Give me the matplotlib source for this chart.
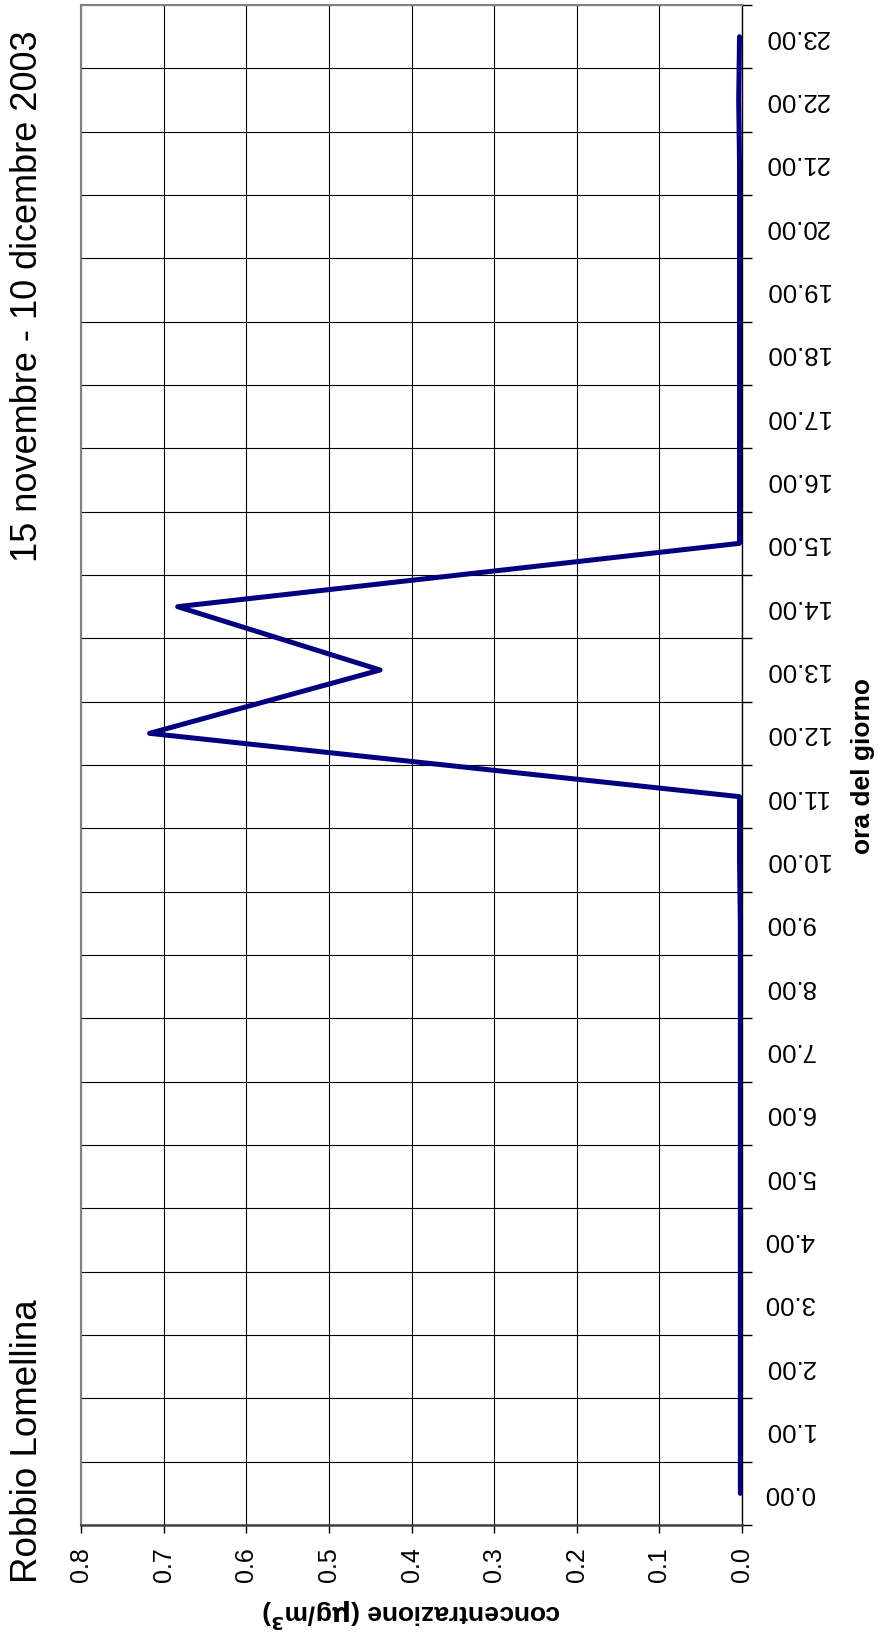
import matplotlib
matplotlib.use("Agg")
import matplotlib.pyplot as plt
from matplotlib.ticker import FixedLocator, NullFormatter

plt.rcParams['font.family'] = ['Liberation Sans', 'DejaVu Sans']

hours = list(range(24))
hour_labels = [f"{h}.00" for h in hours]
conc = [0.002, 0.002, 0.002, 0.002, 0.002, 0.002, 0.002, 0.002, 0.002, 0.002,
        0.003, 0.003, 0.717, 0.438, 0.683, 0.003, 0.003, 0.003, 0.003, 0.003,
        0.003, 0.003, 0.004, 0.003]
conc_ticks = [0.0, 0.1, 0.2, 0.3, 0.4, 0.5, 0.6, 0.7, 0.8]

W, H = 879, 1635
fig = plt.figure(figsize=(W / 100, H / 100), dpi=100)
ax = fig.add_axes([81 / W, 1 - 1525 / H, (742 - 81) / W, (1525 - 5) / H])

ax.plot(conc, hours, color='#000080', lw=3.6, solid_joinstyle='round',
        solid_capstyle='round', zorder=3)

# concentration axis runs right-to-left along the bottom
ax.set_xlim(0.8, 0.0)
ax.set_xticks(conc_ticks)
ax.set_xticklabels([f"{v:.1f}" for v in conc_ticks], rotation=90, fontsize=18)
ax.tick_params(axis='x', direction='out', length=6, width=1, pad=10, color='#000000')

# hour axis on the right, category style (gridlines between labels)
ax.set_ylim(-0.5, 23.5)
ax.yaxis.tick_right()
ax.yaxis.set_label_position('right')
ax.set_yticks(hours)
ax.set_yticklabels(hour_labels, rotation=180, fontsize=18.5, ha='left', va='center')
ax.yaxis.set_minor_locator(FixedLocator([h - 0.5 for h in hours] + [23.5]))
ax.yaxis.set_minor_formatter(NullFormatter())
ax.tick_params(axis='y', which='major', length=0, pad=16)
ax.tick_params(axis='y', which='minor', direction='out', length=7, width=1, color='#000000')

ax.grid(axis='x', which='major', color='#000000', lw=0.8)
ax.grid(axis='y', which='minor', color='#000000', lw=0.8)
ax.set_axisbelow(True)

for side in ['left', 'top']:
    ax.spines[side].set_color('#808080')
    ax.spines[side].set_linewidth(1.5)
ax.spines['bottom'].set_color('#404040')
ax.spines['bottom'].set_linewidth(1.8)
ax.spines['right'].set_color('#000000')
ax.spines['right'].set_linewidth(1.0)

# axis titles, rotated like the source page
fig.text(863 / W, 1 - 766 / H, "ora del giorno", rotation=90, fontsize=19,
         fontweight='bold', ha='center', va='center')
fig.text(411 / W, 1 - 1613 / H, r"concentrazione ($\mathbf{\mu}$g/m$^{\mathbf{3}}$)",
         rotation=180, fontsize=19, fontweight='bold', ha='center', va='center')

fig.text(28 / W, 1 - 31 / H, "15 novembre - 10 dicembre 2003", rotation=90,
         fontsize=26, ha='center', va='top')
fig.text(28 / W, 1 - 1583 / H, "Robbio Lomellina", rotation=90,
         fontsize=26.5, ha='center', va='bottom')

fig.savefig("out.png", dpi=100)
